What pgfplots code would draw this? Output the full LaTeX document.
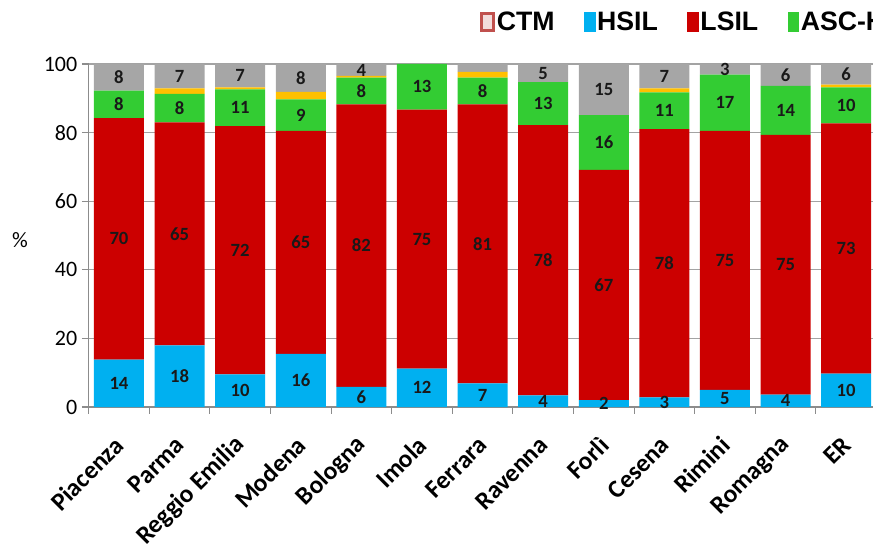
\documentclass[border=0pt]{standalone}
\usepackage{fontspec}
\setmainfont{Carlito}
\newfontfamily\legfont{Liberation Sans}
\usepackage{pgfplots}
\usepackage{pgfplotstable}
\pgfplotsset{compat=1.18}
\definecolor{cHS}{HTML}{00B0F0}
\definecolor{cLS}{HTML}{CC0000}
\definecolor{cAS}{HTML}{33CC33}
\definecolor{cOR}{HTML}{FFC000}
\definecolor{cGR}{HTML}{A6A6A6}
\definecolor{cAx}{HTML}{8C8C8C}
\definecolor{cCTMb}{HTML}{C0504D}
\definecolor{cCTMf}{HTML}{F2DCDB}

\pgfplotstableread{
x hs ls as or gr lhs lls las lgr
0 13.8 70.4 8.0 0.0 7.8 14 70 8 8
1 18.0 65.0 8.3 1.6 7.1 18 65 8 7
2 9.5 72.4 10.7 0.6 6.8 10 72 11 7
3 15.5 65.0 9.2 2.2 8.1 16 65 9 8
4 5.9 82.3 7.8 0.5 3.5 6 82 8 4
5 11.2 75.5 13.3 0.0 0.0 12 75 13 {}
6 6.9 81.3 7.8 1.7 2.3 7 81 8 {}
7 3.4 78.8 12.5 0.0 5.3 4 78 13 5
8 2.0 67.1 16.0 0.0 14.9 2 67 16 15
9 2.8 78.2 10.7 1.2 7.1 3 78 11 7
10 5.0 75.5 16.4 0.0 3.1 5 75 17 3
11 3.6 75.7 14.3 0.0 6.4 4 75 14 6
12 9.7 73.0 10.5 0.8 6.0 10 73 10 6
}\data

\pgfplotsset{
  lab/.style={
    nodes near coords={\pgfplotspointmeta},
    point meta=explicit symbolic,
    every node near coord/.style={font=\fontsize{14}{16}\selectfont\bfseries, text=black!90, anchor=center, inner sep=0pt}
  }
}

\begin{document}
\begin{tikzpicture}
\begin{axis}[
  scale only axis, width=590.85pt, height=257.25pt,
  ybar stacked, bar width=0.825,
  xmin=-0.5, xmax=12.5, ymin=0, ymax=100,
  axis x line*=bottom, axis y line*=left,
  axis line style={cAx, line width=0.8pt},
  tick align=outside,
  xtick={0,...,12},
  xticklabels={Piacenza,Parma,Reggio Emilia,Modena,Bologna,Imola,Ferrara,Ravenna,Forlì,Cesena,Rimini,Romagna,ER},
  major x tick style={draw=none},
  minor xtick={-0.5,0.5,...,12.5},
  minor x tick style={draw=cAx, line width=0.8pt},
  minor tick length=5pt, major tick length=5pt,
  ytick={0,20,...,100},
  ytick style={draw=cAx, line width=0.8pt},
  ymajorgrids, grid style={cAx!80, line width=0.8pt},
  xticklabel style={font=\fontsize{19}{21}\selectfont\bfseries, anchor=east, inner sep=0pt, xshift=0.5pt, yshift=-20.5pt, rotate=45},
  yticklabel style={font=\fontsize{16.5}{18}\selectfont},
  /pgf/number format/assume math mode=true,
  ylabel={\%},
  every axis y label/.style={at={(axis description cs:-0.0872,0.487)}, anchor=center, font=\fontsize{16.5}{18}\selectfont},
  legend style={draw=none, fill=none, at={(axis description cs:0.4967,1.1224)}, anchor=west, inner sep=0pt,
    font=\legfont\bfseries\fontsize{20}{22}\selectfont, /tikz/every even column/.append style={column sep=20.5pt}, nodes={inner sep=1.5pt}},
  legend columns=-1,
]
\addlegendimage{legend image code/.code={\draw[draw=cCTMb, fill=cCTMf, line width=2pt] (1pt,-6.5pt) rectangle (10pt,6.5pt);}}
\addlegendentry{CTM}
\addlegendimage{legend image code/.code={\fill[cHS] (1pt,-7pt) rectangle (9pt,7pt);}}
\addlegendentry{HSIL}
\addlegendimage{legend image code/.code={\fill[cLS] (1pt,-7pt) rectangle (9pt,7pt);}}
\addlegendentry{LSIL}
\addlegendimage{legend image code/.code={\fill[cAS] (1pt,-7pt) rectangle (9pt,7pt);}}
\addlegendentry{ASC-H}

\addplot[fill=cHS, draw=none, lab] table[x=x, y=hs, meta=lhs] {\data};
\addplot[fill=cLS, draw=none, lab] table[x=x, y=ls, meta=lls] {\data};
\addplot[fill=cAS, draw=none, lab] table[x=x, y=as, meta=las] {\data};
\addplot[fill=cOR, draw=none] table[x=x, y=or] {\data};
\addplot[fill=cGR, draw=none, lab] table[x=x, y=gr, meta=lgr] {\data};
\end{axis}
\pgfresetboundingbox
\path[use as bounding box] (-66.5pt,-103.5pt) rectangle (588.25pt,305.25pt);
\end{tikzpicture}
\end{document}
